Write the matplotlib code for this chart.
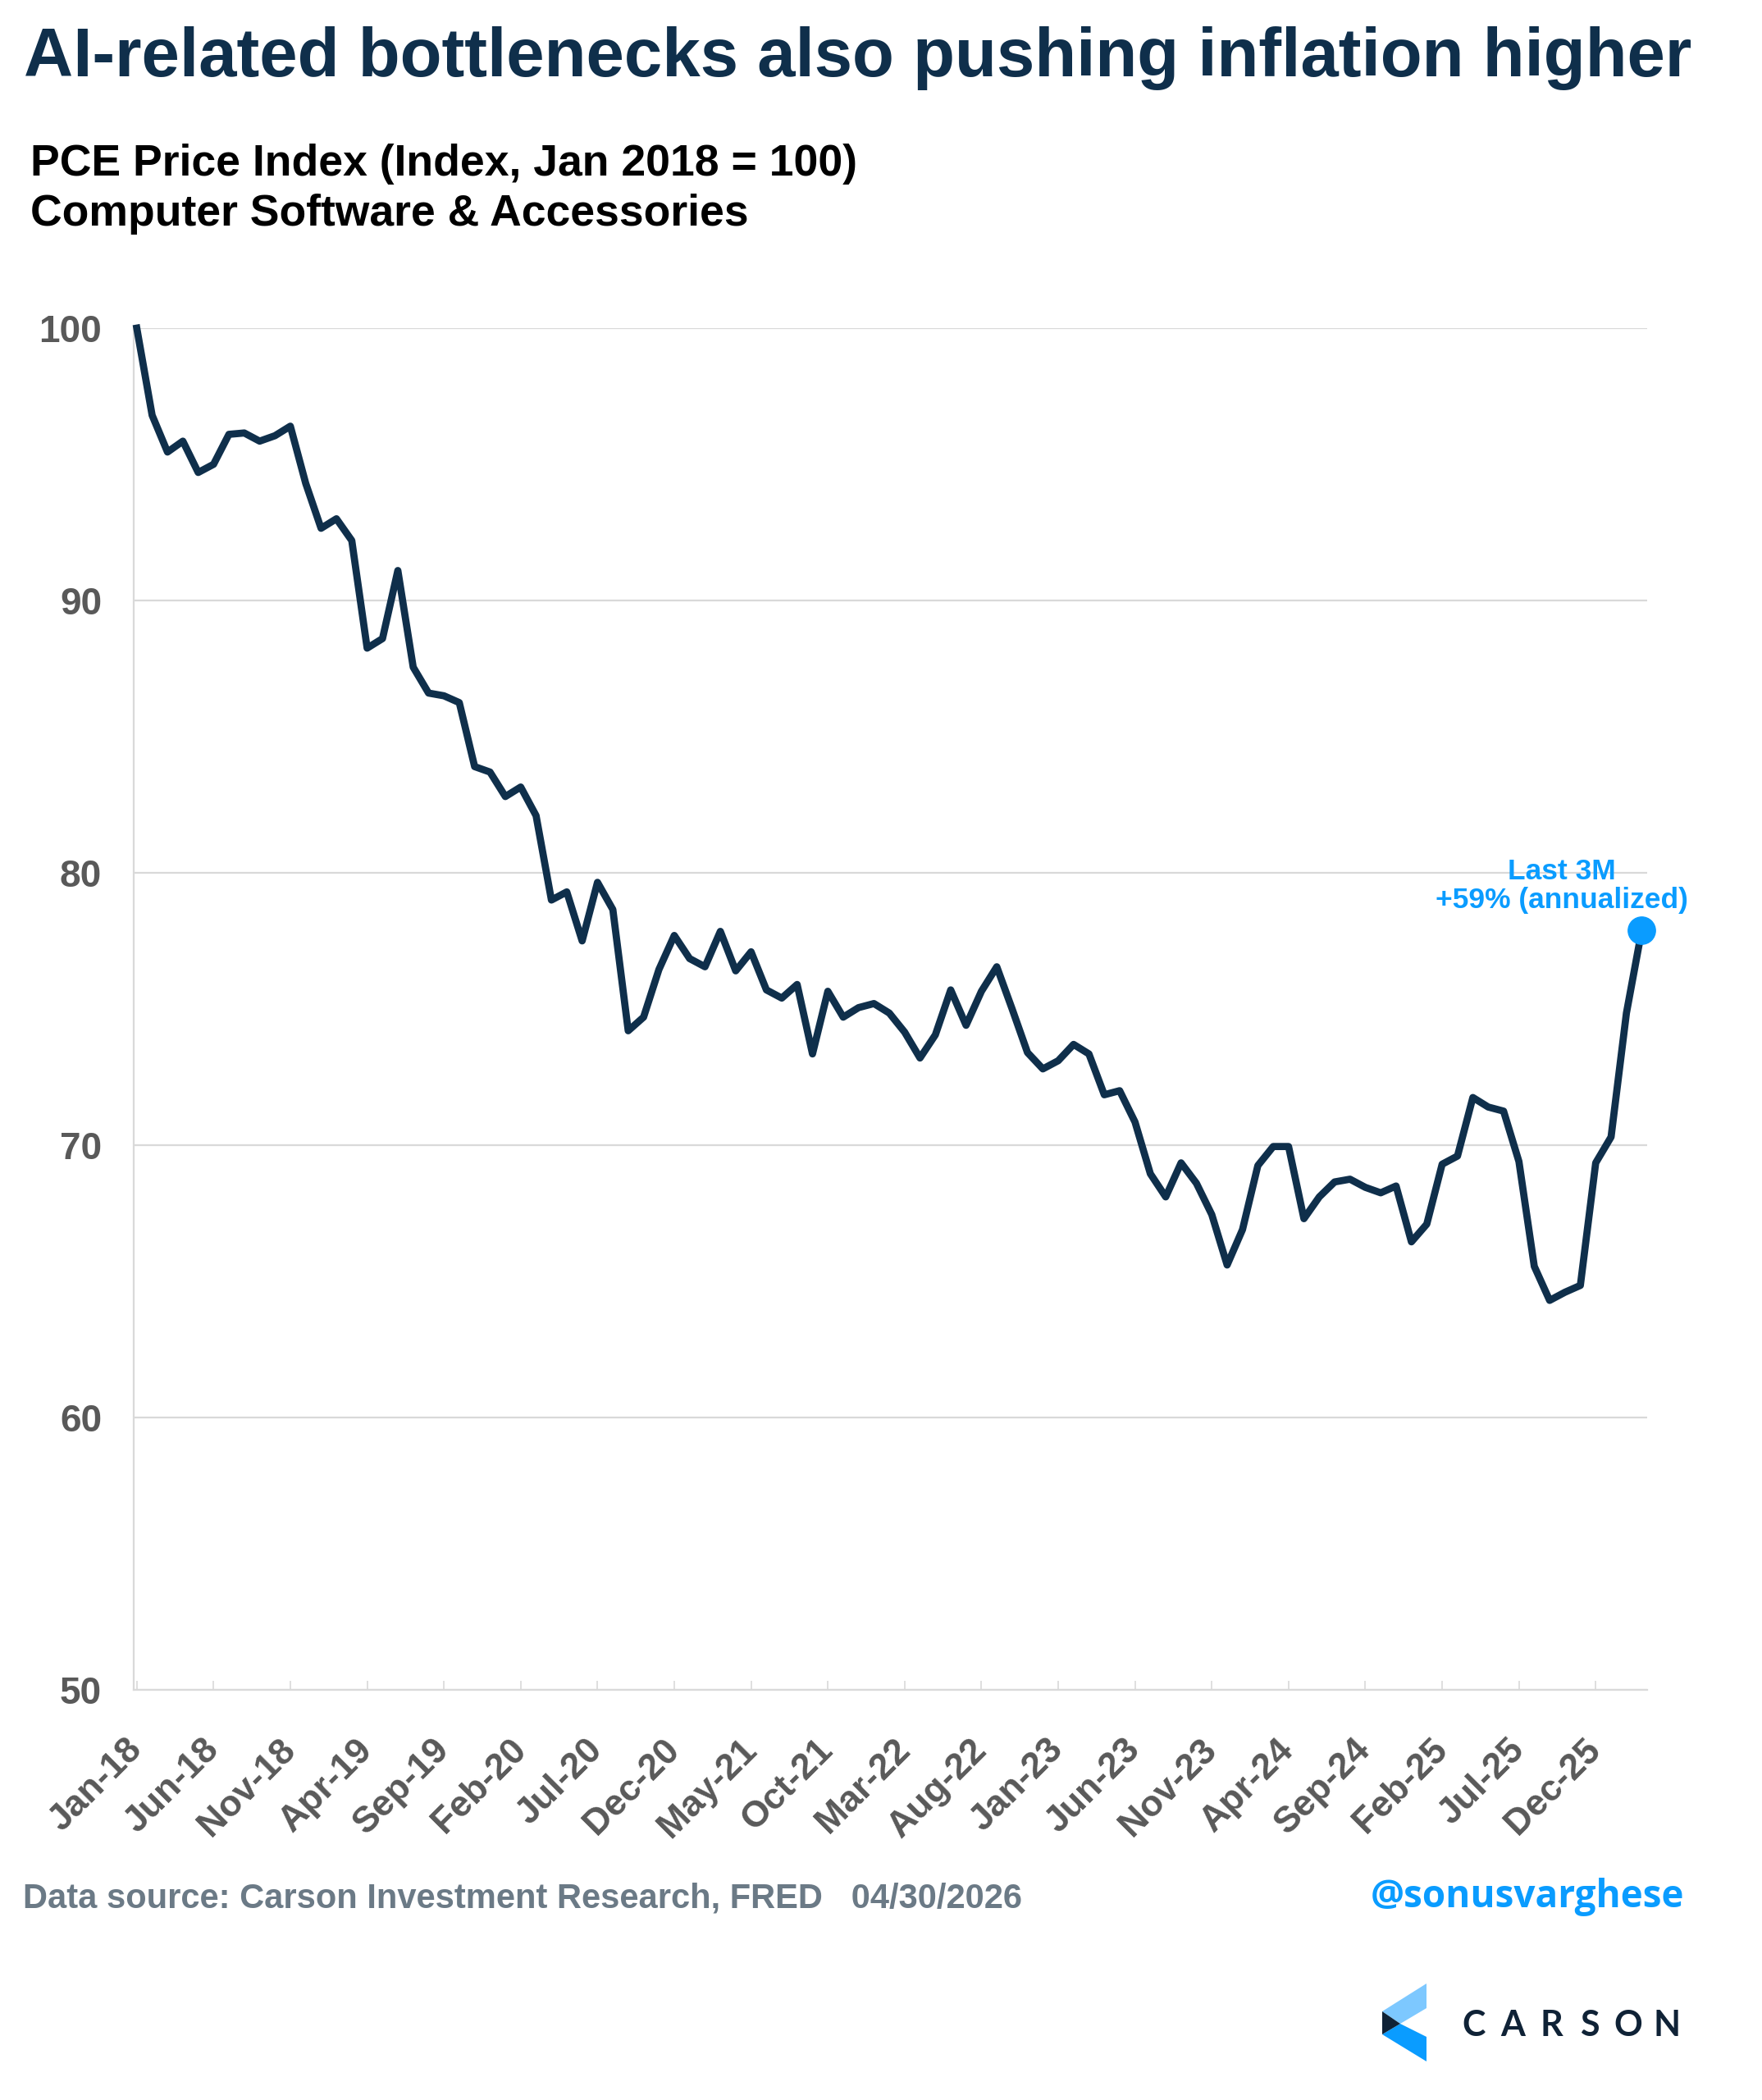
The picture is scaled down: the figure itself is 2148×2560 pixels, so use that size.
import matplotlib
matplotlib.use("Agg")
import matplotlib.pyplot as plt
from matplotlib.patches import Polygon
import numpy as np

W, H = 2148, 2560

# monthly index, Jan 2018 = 100 (Jan-18 .. Mar-26)
values = [
    100.0, 96.8, 95.45, 95.85, 94.7, 95.0, 96.1, 96.15, 95.85, 96.05, 96.4, 94.3,
    92.65, 93.0, 92.2, 88.25, 88.6, 91.1, 87.55, 86.6, 86.5, 86.25, 83.9, 83.7,
    82.8, 83.15, 82.1, 79.0, 79.3, 77.5, 79.65, 78.65, 74.2, 74.7, 76.45, 77.7,
    76.85, 76.55, 77.85, 76.4, 77.1, 75.7, 75.4, 75.9, 73.35, 75.65, 74.7, 75.05,
    75.2, 74.85, 74.15, 73.2, 74.05, 75.7, 74.4, 75.65, 76.55, 75.0, 73.4, 72.8,
    73.1, 73.7, 73.35, 71.85, 72.0, 70.85, 68.95, 68.1, 69.35, 68.6, 67.45, 65.6,
    66.9, 69.25, 69.95, 69.95, 67.3, 68.1, 68.65, 68.75, 68.45, 68.25, 68.5, 66.45,
    67.1, 69.3, 69.6, 71.75, 71.4, 71.25, 69.4, 65.55, 64.3, 64.6, 64.85, 69.35,
    70.3, 74.85, 77.9,
]
tick_labels = ["Jan-18", "Jun-18", "Nov-18", "Apr-19", "Sep-19", "Feb-20", "Jul-20",
               "Dec-20", "May-21", "Oct-21", "Mar-22", "Aug-22", "Jan-23", "Jun-23",
               "Nov-23", "Apr-24", "Sep-24", "Feb-25", "Jul-25", "Dec-25"]
y_ticks = [50, 60, 70, 80, 90, 100]

navy = "#0f2f4b"
blue = "#0a9cff"
grey_txt = "#595959"
grid_c = "#d9d9d9"

plt.rcParams["font.family"] = ["Liberation Sans", "DejaVu Sans"]

fig = plt.figure(figsize=(W / 100, H / 100), dpi=100)
ax = fig.add_axes([163 / W, 1 - 2060 / H, (2008 - 163) / W, (2060 - 400) / H])

x = np.arange(len(values))
ax.plot(x, values, color=navy, lw=6.3, solid_joinstyle="round", zorder=3,
        clip_on=False)
ax.plot(x[-1], values[-1], "o", color=blue, ms=24, zorder=4, clip_on=False)

ax.set_xlim(-0.2, 98.35)
ax.set_ylim(50, 100)
ax.set_yticks(y_ticks)
ax.set_yticklabels([str(v) for v in y_ticks])
ax.yaxis.grid(True, color=grid_c, lw=1.6)
ax.set_axisbelow(True)

ax.set_xticks(np.arange(0, len(values), 5)[:len(tick_labels)])
ax.set_xticklabels(tick_labels, rotation=45, ha="right", va="center",
                   rotation_mode="anchor")

for s in ["top", "right"]:
    ax.spines[s].set_visible(False)
for s in ["left", "bottom"]:
    ax.spines[s].set_color(grid_c)
    ax.spines[s].set_linewidth(1.6)

ax.tick_params(axis="y", length=0, pad=28, labelsize=33, labelcolor=grey_txt)
ax.tick_params(axis="x", direction="in", length=8, width=1.2, color=grid_c,
               pad=48, labelsize=32, labelcolor=grey_txt)
for lab in ax.get_xticklabels() + ax.get_yticklabels():
    lab.set_fontweight("bold")

ax.annotate("Last 3M\n+59% (annualized)", xy=(x[-1], values[-1]),
            xytext=(-70, 14), textcoords="offset points", ha="center", va="bottom",
            color=blue, fontsize=25.5, fontweight="bold", linespacing=1.1)

# titles
fig.text(29 / W, 1 - 93 / H, "AI-related bottlenecks also pushing inflation higher",
         color=navy, fontsize=60, fontweight="bold", va="baseline")
fig.text(37 / W, 1 - 214 / H, "PCE Price Index (Index, Jan 2018 = 100)",
         color="black", fontsize=38.5, fontweight="bold", va="baseline")
fig.text(37 / W, 1 - 275 / H, "Computer Software & Accessories",
         color="black", fontsize=38.5, fontweight="bold", va="baseline")

# footer
fig.text(28 / W, 1 - 2325 / H, "Data source: Carson Investment Research, FRED   04/30/2026",
         color="#6b7a86", fontsize=30, fontweight="bold", va="baseline")
fig.text(2053 / W, 1 - 2325 / H, "@sonusvarghese", color=blue, fontsize=33,
         fontweight="bold", family=["Open Sans", "DejaVu Sans"], ha="right",
         va="baseline")

# Carson logo
def fx(px):
    return px / W

def fy(py):
    return 1 - py / H

shapes = [
    ([(1739, 2418), (1739, 2448), (1707, 2467), (1685, 2452)], "#7dc8ff"),
    ([(1685, 2480), (1707, 2467), (1739, 2483), (1739, 2513)], blue),
    ([(1685, 2452), (1707, 2467), (1685, 2480)], "#0f2236"),
]
for pts, col in shapes:
    fig.patches.append(Polygon([(fx(a), fy(b)) for a, b in pts], closed=True,
                               transform=fig.transFigure, color=col, lw=0))
for i, ch in enumerate("CARSON"):
    fig.text(fx(1797 + i * 47), fy(2482), ch, color="#0f2236", fontsize=31,
             fontweight="bold", family=["Lato", "DejaVu Sans"], ha="center",
             va="baseline")

fig.savefig("out.png", dpi=100, facecolor="white")
